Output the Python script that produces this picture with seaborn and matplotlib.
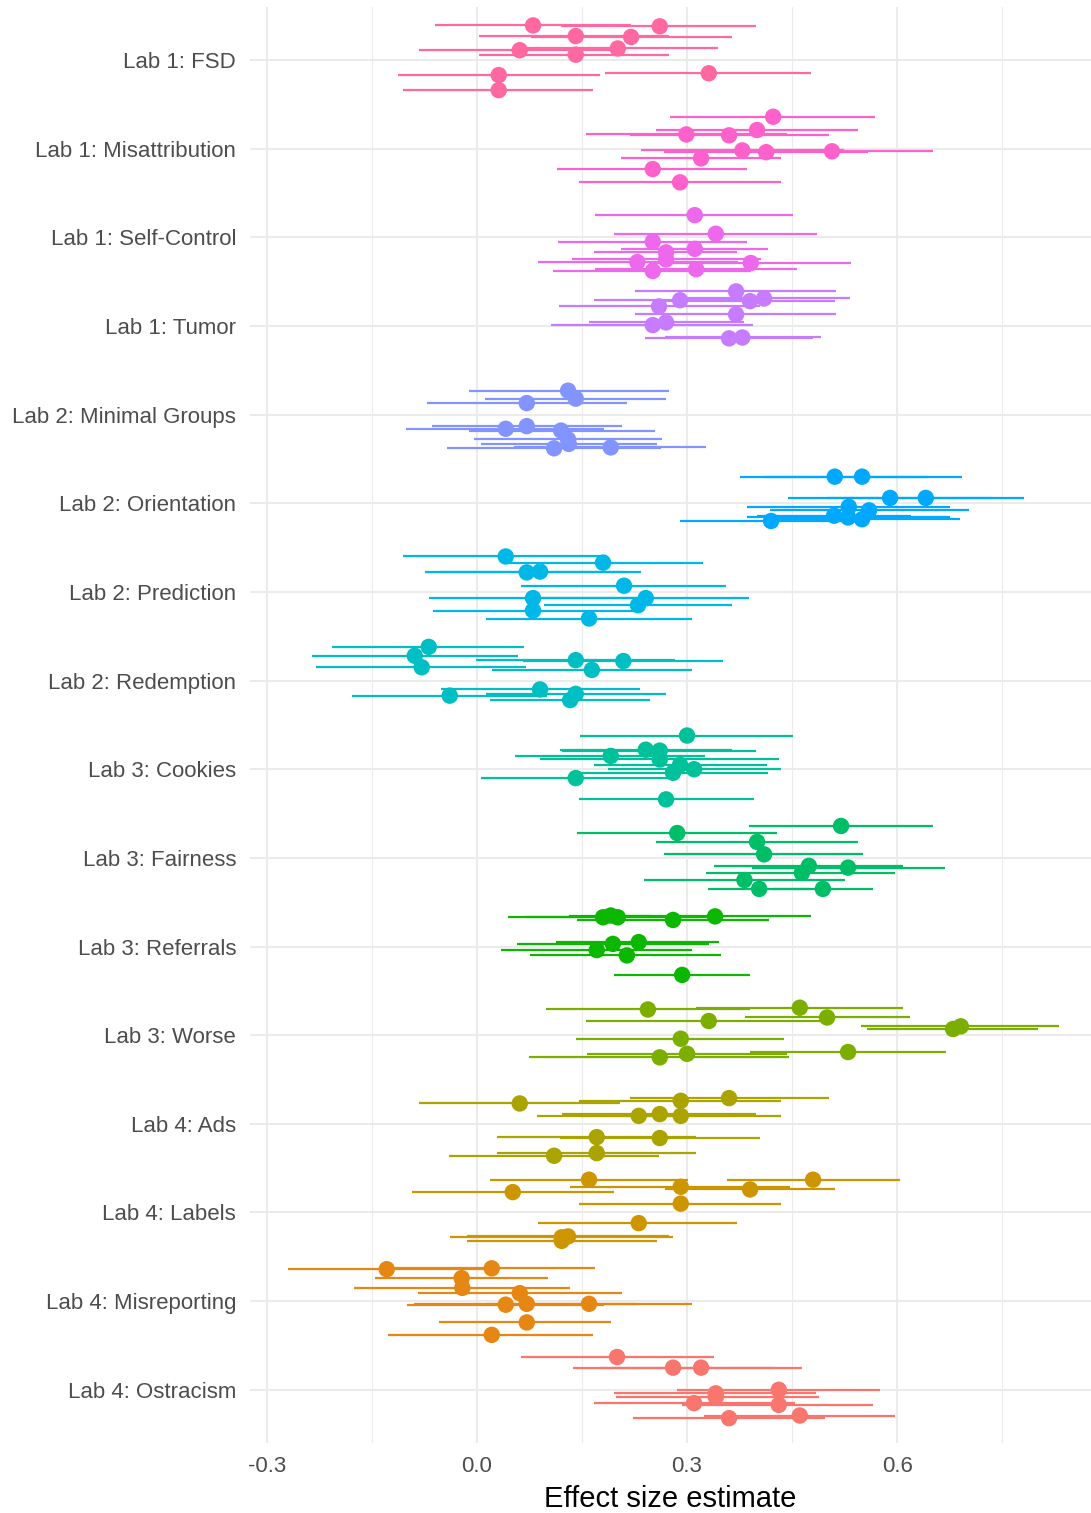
import numpy as np
import pandas as pd
import matplotlib
matplotlib.use("Agg")
import matplotlib.pyplot as plt
import seaborn as sns

# Studies, top to bottom
studies = [
    "Lab 1: FSD", "Lab 1: Misattribution", "Lab 1: Self-Control", "Lab 1: Tumor",
    "Lab 2: Minimal Groups", "Lab 2: Orientation", "Lab 2: Prediction", "Lab 2: Redemption",
    "Lab 3: Cookies", "Lab 3: Fairness", "Lab 3: Referrals", "Lab 3: Worse",
    "Lab 4: Ads", "Lab 4: Labels", "Lab 4: Misreporting", "Lab 4: Ostracism",
]

# Effect size estimates per replication
estimate = {
    "Lab 1: FSD":            [0.080, 0.261, 0.141, 0.220, 0.061, 0.201, 0.141, 0.031, 0.331, 0.031],
    "Lab 1: Misattribution": [0.423, 0.299, 0.360, 0.400, 0.379, 0.413, 0.507, 0.320, 0.251, 0.290],
    "Lab 1: Self-Control":   [0.311, 0.341, 0.251, 0.311, 0.270, 0.270, 0.229, 0.391, 0.251, 0.313],
    "Lab 1: Tumor":          [0.370, 0.290, 0.390, 0.410, 0.260, 0.370, 0.251, 0.270, 0.360, 0.379],
    "Lab 2: Minimal Groups": [0.130, 0.141, 0.071, 0.041, 0.071, 0.120, 0.130, 0.131, 0.191, 0.110],
    "Lab 2: Orientation":    [0.511, 0.550, 0.590, 0.641, 0.531, 0.560, 0.510, 0.530, 0.550, 0.420],
    "Lab 2: Prediction":     [0.041, 0.180, 0.071, 0.090, 0.210, 0.080, 0.241, 0.230, 0.080, 0.160],
    "Lab 2: Redemption":     [-0.069, -0.089, -0.079, 0.141, 0.209, 0.164, 0.090, -0.039, 0.141, 0.133],
    "Lab 3: Cookies":        [0.300, 0.241, 0.261, 0.191, 0.261, 0.290, 0.310, 0.280, 0.141, 0.270],
    "Lab 3: Fairness":       [0.520, 0.286, 0.400, 0.410, 0.474, 0.530, 0.464, 0.382, 0.403, 0.494],
    "Lab 3: Referrals":      [0.180, 0.191, 0.201, 0.280, 0.340, 0.194, 0.231, 0.171, 0.214, 0.293],
    "Lab 3: Worse":          [0.244, 0.461, 0.331, 0.500, 0.691, 0.680, 0.291, 0.530, 0.300, 0.261],
    "Lab 4: Ads":            [0.061, 0.291, 0.360, 0.231, 0.261, 0.291, 0.171, 0.261, 0.171, 0.110],
    "Lab 4: Labels":         [0.160, 0.480, 0.291, 0.390, 0.051, 0.291, 0.231, 0.130, 0.121, 0.121],
    "Lab 4: Misreporting":   [-0.129, 0.021, -0.022, -0.021, 0.061, 0.041, 0.071, 0.160, 0.071, 0.021],
    "Lab 4: Ostracism":      [0.200, 0.280, 0.320, 0.341, 0.431, 0.341, 0.310, 0.431, 0.461, 0.360],
}

# Lower confidence limits
ci_low = {
    "Lab 1: FSD":            [-0.060, 0.120, 0.003, 0.077, -0.083, 0.059, 0.003, -0.113, 0.183, -0.106],
    "Lab 1: Misattribution": [0.276, 0.156, 0.218, 0.256, 0.234, 0.267, 0.363, 0.205, 0.114, 0.146],
    "Lab 1: Self-Control":   [0.169, 0.196, 0.116, 0.206, 0.167, 0.136, 0.087, 0.246, 0.109, 0.169],
    "Lab 1: Tumor":          [0.226, 0.167, 0.269, 0.287, 0.117, 0.226, 0.106, 0.160, 0.240, 0.269],
    "Lab 2: Minimal Groups": [-0.012, 0.011, -0.072, -0.101, -0.065, -0.012, -0.004, 0.005, 0.053, -0.043],
    "Lab 2: Orientation":    [0.376, 0.408, 0.444, 0.500, 0.385, 0.418, 0.400, 0.385, 0.411, 0.290],
    "Lab 2: Prediction":     [-0.106, 0.044, -0.074, -0.053, 0.063, -0.068, 0.094, 0.096, -0.063, 0.013],
    "Lab 2: Redemption":     [-0.207, -0.236, -0.230, -0.002, 0.065, 0.021, -0.052, -0.179, 0.013, 0.018],
    "Lab 3: Cookies":        [0.147, 0.118, 0.121, 0.054, 0.090, 0.167, 0.187, 0.143, 0.006, 0.145],
    "Lab 3: Fairness":       [0.389, 0.143, 0.256, 0.267, 0.339, 0.393, 0.327, 0.238, 0.330, 0.422],
    "Lab 3: Referrals":      [0.044, 0.132, 0.070, 0.143, 0.203, 0.057, 0.113, 0.034, 0.076, 0.195],
    "Lab 3: Worse":          [0.099, 0.313, 0.155, 0.383, 0.549, 0.557, 0.142, 0.390, 0.157, 0.074],
    "Lab 4: Ads":            [-0.083, 0.146, 0.218, 0.085, 0.122, 0.147, 0.028, 0.118, 0.028, -0.040],
    "Lab 4: Labels":         [0.018, 0.357, 0.133, 0.269, -0.093, 0.146, 0.087, -0.014, -0.038, -0.015],
    "Lab 4: Misreporting":   [-0.270, -0.127, -0.146, -0.176, -0.085, -0.100, -0.090, 0.013, -0.054, -0.127],
    "Lab 4: Ostracism":      [0.063, 0.137, 0.176, 0.196, 0.286, 0.198, 0.167, 0.293, 0.324, 0.223],
}

# Upper confidence limits
ci_high = {
    "Lab 1: FSD":            [0.220, 0.399, 0.274, 0.364, 0.203, 0.344, 0.274, 0.175, 0.477, 0.166],
    "Lab 1: Misattribution": [0.569, 0.443, 0.503, 0.544, 0.524, 0.559, 0.651, 0.434, 0.386, 0.434],
    "Lab 1: Self-Control":   [0.451, 0.485, 0.385, 0.415, 0.372, 0.405, 0.373, 0.534, 0.392, 0.457],
    "Lab 1: Tumor":          [0.513, 0.413, 0.511, 0.533, 0.404, 0.513, 0.394, 0.381, 0.480, 0.491],
    "Lab 2: Minimal Groups": [0.274, 0.270, 0.214, 0.182, 0.207, 0.254, 0.264, 0.257, 0.327, 0.263],
    "Lab 2: Orientation":    [0.644, 0.693, 0.736, 0.782, 0.676, 0.703, 0.620, 0.676, 0.690, 0.546],
    "Lab 2: Prediction":     [0.186, 0.323, 0.214, 0.234, 0.356, 0.229, 0.388, 0.364, 0.223, 0.307],
    "Lab 2: Redemption":     [0.067, 0.058, 0.070, 0.283, 0.352, 0.307, 0.233, 0.100, 0.270, 0.247],
    "Lab 3: Cookies":        [0.452, 0.364, 0.399, 0.326, 0.432, 0.414, 0.434, 0.415, 0.276, 0.395],
    "Lab 3: Fairness":       [0.652, 0.429, 0.544, 0.552, 0.609, 0.668, 0.597, 0.525, 0.476, 0.566],
    "Lab 3: Referrals":      [0.317, 0.249, 0.330, 0.417, 0.477, 0.331, 0.346, 0.307, 0.349, 0.390],
    "Lab 3: Worse":          [0.390, 0.608, 0.492, 0.618, 0.831, 0.802, 0.439, 0.670, 0.443, 0.446],
    "Lab 4: Ads":            [0.204, 0.434, 0.503, 0.369, 0.398, 0.434, 0.313, 0.404, 0.313, 0.260],
    "Lab 4: Labels":         [0.302, 0.604, 0.447, 0.511, 0.195, 0.434, 0.372, 0.274, 0.280, 0.257],
    "Lab 4: Misreporting":   [0.013, 0.168, 0.101, 0.133, 0.207, 0.181, 0.229, 0.307, 0.192, 0.166],
    "Lab 4: Ostracism":      [0.339, 0.423, 0.464, 0.484, 0.575, 0.488, 0.454, 0.566, 0.597, 0.497],
}

# Vertical jitter of each replication around its study row (row units)
jitter = {
    "Lab 1: FSD":            [-0.39, -0.38, -0.27, -0.26, -0.11, -0.13, -0.06, 0.17, 0.15, 0.34],
    "Lab 1: Misattribution": [-0.36, -0.16, -0.15, -0.21, 0.02, 0.04, 0.03, 0.11, 0.23, 0.38],
    "Lab 1: Self-Control":   [-0.25, -0.04, 0.05, 0.13, 0.17, 0.25, 0.28, 0.29, 0.38, 0.36],
    "Lab 1: Tumor":          [-0.39, -0.29, -0.28, -0.31, -0.22, -0.13, -0.01, -0.04, 0.14, 0.13],
    "Lab 2: Minimal Groups": [-0.27, -0.18, -0.13, 0.16, 0.13, 0.18, 0.28, 0.33, 0.37, 0.38],
    "Lab 2: Orientation":    [-0.30, -0.30, -0.06, -0.06, 0.04, 0.08, 0.14, 0.16, 0.18, 0.20],
    "Lab 2: Prediction":     [-0.40, -0.33, -0.22, -0.23, -0.07, 0.07, 0.07, 0.15, 0.21, 0.30],
    "Lab 2: Redemption":     [-0.38, -0.28, -0.15, -0.23, -0.22, -0.12, 0.10, 0.17, 0.15, 0.22],
    "Lab 3: Cookies":        [-0.38, -0.22, -0.21, -0.15, -0.11, -0.05, 0.00, 0.04, 0.10, 0.34],
    "Lab 3: Fairness":       [-0.36, -0.28, -0.18, -0.04, 0.09, 0.11, 0.17, 0.25, 0.35, 0.35],
    "Lab 3: Referrals":      [-0.33, -0.35, -0.33, -0.30, -0.34, -0.03, -0.05, 0.04, 0.10, 0.32],
    "Lab 3: Worse":          [-0.29, -0.31, -0.16, -0.20, -0.10, -0.07, 0.04, 0.19, 0.21, 0.25],
    "Lab 4: Ads":            [-0.23, -0.26, -0.29, -0.09, -0.11, -0.09, 0.15, 0.16, 0.33, 0.36],
    "Lab 4: Labels":         [-0.37, -0.37, -0.29, -0.26, -0.23, -0.10, 0.12, 0.27, 0.28, 0.32],
    "Lab 4: Misreporting":   [-0.36, -0.37, -0.26, -0.15, -0.09, 0.04, 0.03, 0.03, 0.24, 0.38],
    "Lab 4: Ostracism":      [-0.37, -0.25, -0.25, 0.04, 0.00, 0.08, 0.15, 0.17, 0.29, 0.32],
}

x_ticks = [-0.3, 0.0, 0.3, 0.6]
x_tick_labels = ["-0.3", "0.0", "0.3", "0.6"]
x_minor = [-0.15, 0.15, 0.45, 0.75]


def hcl_colour(h, c=100.0, l=65.0):
    """Polar CIE-Luv (HCL) to sRGB, D65 white."""
    hr = np.deg2rad(h)
    U, V = c * np.cos(hr), c * np.sin(hr)
    xn, yn, zn = 95.047, 100.0, 108.883
    un = 4 * xn / (xn + 15 * yn + 3 * zn)
    vn = 9 * yn / (xn + 15 * yn + 3 * zn)
    Y = yn * ((l + 16) / 116) ** 3
    u = U / (13 * l) + un
    v = V / (13 * l) + vn
    X = 9 * Y * u / (4 * v)
    Z = -X / 3 - 5 * Y + 3 * Y / v
    m = np.array([[3.240479, -1.537150, -0.498535],
                  [-0.969256, 1.875992, 0.041556],
                  [0.055648, -0.204043, 1.057311]])
    rgb = m @ np.array([X, Y, Z]) / 100
    rgb = np.where(rgb <= 0.0031308, 12.92 * rgb,
                   1.055 * np.abs(rgb) ** (1 / 2.4) - 0.055)
    return tuple(np.clip(rgb, 0, 1))


# Hue wheel assigned from the bottom row upwards
n = len(studies)
palette = {s: hcl_colour(15 + 360 / n * (n - 1 - i)) for i, s in enumerate(studies)}

rows = []
for i, s in enumerate(studies):
    for e, lo, hi, j in zip(estimate[s], ci_low[s], ci_high[s], jitter[s]):
        rows.append({"study": s, "estimate": e, "low": lo, "high": hi, "ypos": i + j})
df = pd.DataFrame(rows)

sns.set_theme(style="white")
plt.rcParams["font.family"] = ["Liberation Sans", "DejaVu Sans"]

fig = plt.figure(figsize=(10.91, 15.13), dpi=100)
ax = fig.add_axes([250 / 1091, 1 - 1443 / 1513, 1 - 250 / 1091, (1443 - 6.8) / 1513])

# grid
for xv in x_minor:
    ax.axvline(xv, color="#EBEBEB", lw=0.8, zorder=0)
for xv in x_ticks:
    ax.axvline(xv, color="#EBEBEB", lw=1.5, zorder=0)
for i in range(n):
    ax.axhline(i, color="#EBEBEB", lw=1.5, zorder=0)

# confidence intervals
ax.hlines(df["ypos"], df["low"], df["high"],
          colors=[palette[s] for s in df["study"]], lw=1.6, zorder=2)

# point estimates
sns.scatterplot(data=df, x="estimate", y="ypos", hue="study", palette=palette,
                s=140, linewidth=0, legend=False, ax=ax, zorder=3)

ax.set_xlim(-0.3243, 0.877)
ax.set_ylim(n - 1 + 0.6, -0.6)
ax.set_yticks(range(n))
ax.set_yticklabels(studies)
ax.set_xticks(x_ticks)
ax.set_xticklabels(x_tick_labels)
ax.tick_params(axis="both", length=0, labelsize=16, colors="#4D4D4D")
ax.tick_params(axis="y", pad=10)
ax.tick_params(axis="x", pad=9)
ax.set_xlabel("Effect size estimate", fontsize=21, color="black", labelpad=6)
ax.set_ylabel("")
for sp in ax.spines.values():
    sp.set_visible(False)

fig.savefig("out.png", dpi=100)
